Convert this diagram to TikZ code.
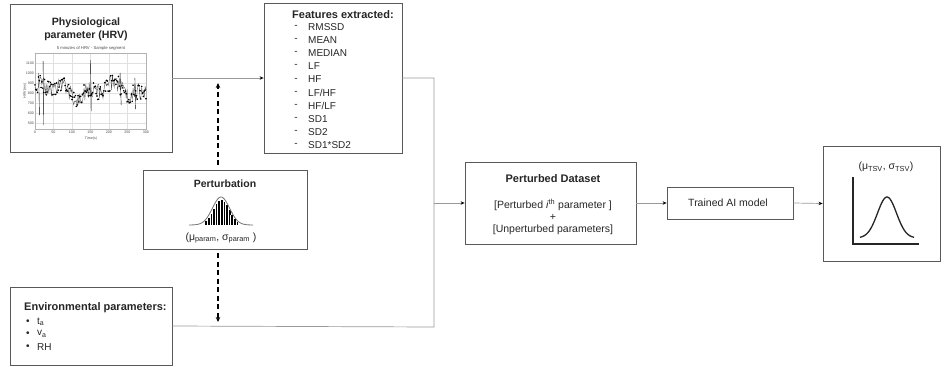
\documentclass[tikz,border=0pt]{standalone}
\usepackage{fontspec}
\setmainfont{Liberation Sans}
\usetikzlibrary{arrows.meta}
\begin{document}
\begin{tikzpicture}[x=1pt,y=-1pt,
  box/.style={draw=black!65, line width=0.8pt, inner sep=0pt, fill=white},
  conn/.style={draw=black!40, line width=0.7pt},
  arr/.style={conn, -{Stealth[length=4pt,width=3.5pt,black]}},
  dasharr/.style={draw=black, line width=1.4pt, dash pattern=on 5pt off 3.5pt, -{Stealth[length=5pt,width=4.5pt]}},
  txt/.style={inner sep=0pt, text=black!85, font=\fontsize{10}{12}\selectfont},
  mtxt/.style={txt, font=\fontsize{10.5}{12}\selectfont},
  btxt/.style={txt, font=\fontsize{11}{13}\selectfont\bfseries},
  tiny/.style={inner sep=0pt, text=black!70, font=\fontsize{3.6}{4}\selectfont}]
\useasboundingbox (0,0) rectangle (946,367);
% boxes
\node[box, minimum width=162pt, minimum height=148pt] (phys) at (91,78) {};
\node[box, minimum width=138pt, minimum height=150pt] (feat) at (333,78) {};
\node[box, minimum width=164pt, minimum height=79pt] (pert) at (225,209.5) {};
\node[box, minimum width=162pt, minimum height=78pt] (env) at (91,326) {};
\node[box, minimum width=171pt, minimum height=82pt] (pd) at (550.5,203) {};
\node[box, minimum width=126pt, minimum height=32pt] (ai) at (730,203) {};
\node[box, minimum width=117pt, minimum height=115pt] (out) at (881.5,203.5) {};
% physiological
\node[btxt, align=center, font=\fontsize{10.6}{13}\selectfont\bfseries] (phystitle) at (86,29.5) {Physiological\\parameter (HRV)};
\node[tiny, font=\fontsize{4.2}{5}\selectfont] (plottitle) at (91,48.5) {5 minutes of HRV - Sample segment};
\foreach \v in {500,600,...,1100} {
  \draw[black!12, line width=0.3pt] (35,{63+(1100-\v)*0.1}) -- (146,{63+(1100-\v)*0.1});
  \node[tiny, anchor=east] (yl\v) at (34,{63+(1100-\v)*0.1}) {\v};
}
\foreach \t in {0,50,...,300} {
  \draw[black!12, line width=0.3pt] ({35+0.37*\t},53) -- ({35+0.37*\t},129);
  \node[tiny, anchor=north] (xl\t) at ({35+0.37*\t},130.5) {\t};
}
\draw[black!30, line width=0.4pt] (35,53) rectangle (146,129);
\node[tiny, rotate=90] (ylab) at (25,91) {HRV(ms)};
\node[tiny] (xlab) at (91,139) {Time(s)};
\pgfmathsetseed{11}
\draw[black!70, line width=0.35pt, mark=*, mark size=0.6pt, mark options={fill=black,draw=black}]
  plot[domain=0:300, samples=130] ({35+0.37*\x},{63+(1100-(830+50*sin(2.2*\x)+40*sin(5.3*\x+40)+85*rand))*0.1});
\draw[black, line width=0.4pt] ({35+0.37*22},{63+(1100-1120)*0.1}) -- ({35+0.37*23},{63+(1100-480)*0.1});
\draw[black, line width=0.4pt] ({35+0.37*10},{63+(1100-1000)*0.1}) -- ({35+0.37*12},{63+(1100-580)*0.1});
\draw[black, line width=0.4pt] ({35+0.37*150},{63+(1100-1130)*0.1}) -- ({35+0.37*152},{63+(1100-620)*0.1});
\draw[black, line width=0.4pt] ({35+0.37*230},{63+(1100-1000)*0.1}) -- ({35+0.37*233},{63+(1100-680)*0.1});
\draw[black, line width=0.4pt] ({35+0.37*270},{63+(1100-950)*0.1}) -- ({35+0.37*272},{63+(1100-640)*0.1});
% features
\node[btxt, anchor=west] (feattitle) at (292,14.5) {Features extracted:};
\foreach \t [count=\k] in {RMSSD,MEAN,MEDIAN,LF,HF,LF/HF,HF/LF,SD1,SD2,SD1*SD2} {
  \node[txt] (fd\k) at (296,{13.1*\k+14}) {-};
  \node[txt, anchor=west] (f\k) at (308,{13.1*\k+14}) {\t};
}
% perturbation
\node[btxt, font=\fontsize{10.5}{12}\selectfont\bfseries] (perttitle) at (225,184) {Perturbation};
\foreach \i in {0,...,12} {
  \pgfmathsetmacro{\xa}{204.5+2.6*\i}
  \pgfmathsetmacro{\h}{25*exp(-((\xa+1.3-221)/8)^2/2)}
  \fill[black] (\xa,225) rectangle ({\xa+2.6},{225-\h});
  \draw[white, line width=0.25pt] (\xa,225) -- (\xa,{225-\h});
}
\draw[black!55, line width=0.8pt] plot[domain=189:253, samples=60, smooth] (\x,{225-28*exp(-((\x-221)/8.5)^2/2)});
\node[mtxt] (pertparam) at (221,238) {(μ\textsubscript{param}, σ\textsubscript{param} )};
% environmental
\node[btxt, anchor=west] (envtitle) at (24,308) {Environmental parameters:};
\node[txt] (b1) at (28,322) {•};
\node[txt] (b2) at (28,334) {•};
\node[txt] (b3) at (28,347) {•};
\node[txt, anchor=west] (e1) at (37,322) {t\textsubscript{a}};
\node[txt, anchor=west] (e2) at (37,334) {v\textsubscript{a}};
\node[txt, anchor=west] (e3) at (37,347) {RH};
% perturbed dataset
\node[btxt] (pdtitle) at (553,179) {Perturbed Dataset};
\node[mtxt] (pd1) at (553,205) {[Perturbed \textit{i}\textsuperscript{th} parameter ]};
\node[mtxt] (pd2) at (553,217) {+};
\node[mtxt] (pd3) at (553,230) {[Unperturbed parameters]};
% AI
\node[mtxt] (ailab) at (728,203) {Trained AI model};
% output
\node[mtxt] (outlab) at (886,167) {(μ\textsubscript{TSV}, σ\textsubscript{TSV})};
\coordinate (ax0) at (853,177);
\coordinate (axo) at (853,244);
\coordinate (ax1) at (919,244);
\draw[black!85, line width=1.5pt] (ax0) -- (axo) -- (ax1);
\draw[black!85, line width=1.3pt] plot[domain=860:914, samples=60, smooth] (\x,{238-41*exp(-((\x-887)/9.5)^2/2)});
% connectors
\coordinate (j1) at (434,327);
\coordinate (jm) at (434,203);
\draw[arr] (phys.east) -- (feat.west);
\draw[conn] (feat.east) -| (j1) -- (env.east);
\draw[arr] (jm) -- (pd.west);
\draw[arr] (pd.east) -- (ai.west);
\draw[arr] (ai.east) -- (out.west);
\coordinate (du0) at (218,165);
\coordinate (du1) at (218,83);
\coordinate (dd0) at (218,253);
\coordinate (dd1) at (218,322);
\draw[dasharr] (du0) -- (du1);
\draw[dasharr] (dd0) -- (dd1);
\end{tikzpicture}
\end{document}
